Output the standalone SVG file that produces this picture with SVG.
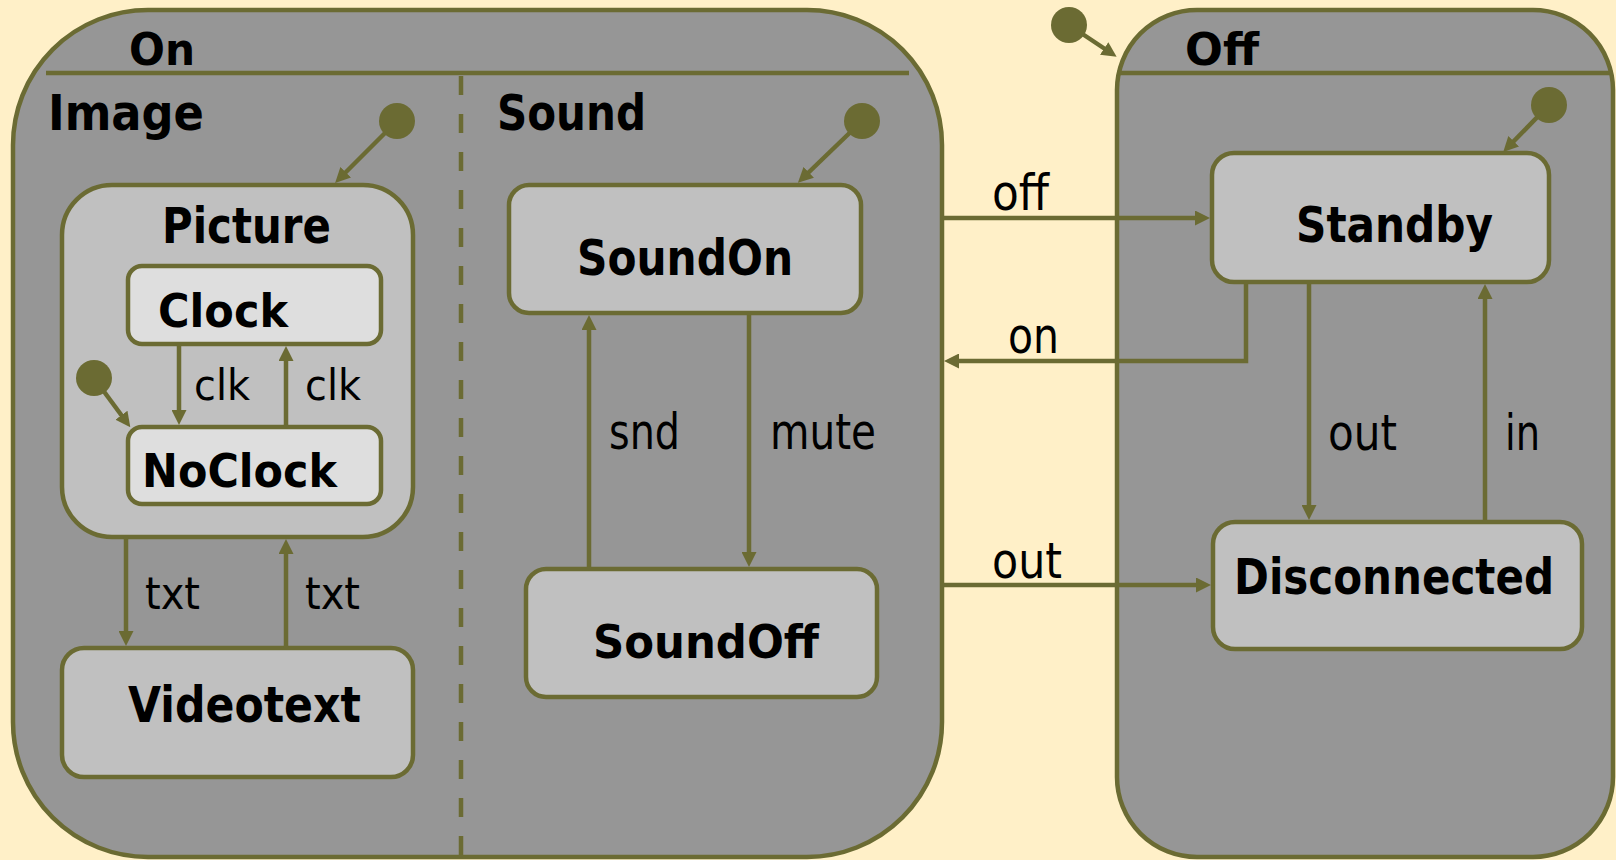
<svg xmlns="http://www.w3.org/2000/svg" width="1616" height="860" viewBox="0 0 1616 860">
  <style>
    .bg { fill: #FFF0C8; }
    .container { fill: #969696; stroke: #6B6B33; stroke-width: 4.5; }
    .box { fill: #C0C0C0; stroke: #6B6B33; stroke-width: 4.5; }
    .leaf { fill: #DEDEDE; stroke: #6B6B33; stroke-width: 4.5; }
    .rule { stroke: #6B6B33; stroke-width: 4.5; fill: none; }
    .dash { stroke: #6B6B33; stroke-width: 4.5; fill: none; stroke-dasharray: 19 19; }
    .edge { stroke: #6B6B33; stroke-width: 4.5; fill: none; marker-end: url(#arrow); }
    .init { fill: #6B6B33; }
    .title { font-family: "DejaVu Sans", Verdana, sans-serif; font-weight: bold; fill: #000; }
    .lbl { font-family: "DejaVu Sans", Verdana, sans-serif; font-weight: normal; fill: #000; }
  </style>
  <defs>
    <marker id="arrow" viewBox="0 0 15 15" refX="1" refY="7.5" markerWidth="15" markerHeight="15" markerUnits="userSpaceOnUse" orient="auto">
      <path d="M0,0 L15,7.5 L0,15 z" fill="#6B6B33"/>
    </marker>
  </defs>

  <rect class="bg" x="0" y="0" width="1616" height="860"/>

  <!-- composite state On with two orthogonal regions -->
  <g id="state-on">
    <rect class="container" x="13" y="10" width="929" height="847" rx="135" ry="135"/>
    <line class="rule" x1="46" y1="73" x2="909" y2="73"/>
    <line class="dash" x1="461" y1="76" x2="461" y2="857"/>
    <text class="title" x="129" y="65" font-size="45" textLength="66" lengthAdjust="spacingAndGlyphs">On</text>
    <text class="title" x="48" y="130" font-size="49" textLength="156" lengthAdjust="spacingAndGlyphs">Image</text>
    <text class="title" x="497" y="130" font-size="49" textLength="149" lengthAdjust="spacingAndGlyphs">Sound</text>
  </g>

  <!-- composite state Off -->
  <g id="state-off">
    <rect class="container" x="1117" y="10" width="496" height="847" rx="80" ry="80"/>
    <line class="rule" x1="1117" y1="73" x2="1613" y2="73"/>
    <text class="title" x="1185" y="65" font-size="45" textLength="74" lengthAdjust="spacingAndGlyphs">Off</text>
  </g>

  <g id="state-picture">
    <rect class="box" x="62" y="185" width="351" height="352" rx="50" ry="50"/>
    <text class="title" x="162" y="243" font-size="49" textLength="169" lengthAdjust="spacingAndGlyphs">Picture</text>
  </g>

  <g id="state-clock">
    <rect class="leaf" x="128" y="266" width="253" height="78" rx="14" ry="14"/>
    <text class="title" x="158" y="327" font-size="47" textLength="130" lengthAdjust="spacingAndGlyphs">Clock</text>
  </g>

  <g id="state-noclock">
    <rect class="leaf" x="128" y="427" width="253" height="77" rx="14" ry="14"/>
    <text class="title" x="142" y="487" font-size="46" textLength="195" lengthAdjust="spacingAndGlyphs">NoClock</text>
  </g>

  <g id="state-videotext">
    <rect class="box" x="62" y="648" width="351" height="129" rx="22" ry="22"/>
    <text class="title" x="128" y="722" font-size="49" textLength="233" lengthAdjust="spacingAndGlyphs">Videotext</text>
  </g>

  <g id="state-soundon">
    <rect class="box" x="509" y="185" width="352" height="128" rx="20" ry="20"/>
    <text class="title" x="577" y="275" font-size="49" textLength="216" lengthAdjust="spacingAndGlyphs">SoundOn</text>
  </g>

  <g id="state-soundoff">
    <rect class="box" x="526" y="569" width="351" height="128" rx="20" ry="20"/>
    <text class="title" x="593" y="658" font-size="47" textLength="226" lengthAdjust="spacingAndGlyphs">SoundOff</text>
  </g>

  <g id="state-standby">
    <rect class="box" x="1212" y="153" width="337" height="129" rx="22" ry="22"/>
    <text class="title" x="1296" y="242" font-size="49" textLength="197" lengthAdjust="spacingAndGlyphs">Standby</text>
  </g>

  <g id="state-disconnected">
    <rect class="box" x="1213" y="522" width="369" height="127" rx="22" ry="22"/>
    <text class="title" x="1234" y="594" font-size="49" textLength="320" lengthAdjust="spacingAndGlyphs">Disconnected</text>
  </g>

  <!-- transitions -->
  <g id="transitions">
    <line class="edge" x1="397" y1="121" x2="345" y2="173"/>
    <line class="edge" x1="862" y1="121" x2="808" y2="173"/>
    <line class="edge" x1="94" y1="378" x2="122" y2="416"/>
    <line class="edge" x1="1069" y1="25" x2="1105" y2="49"/>
    <line class="edge" x1="1549" y1="105" x2="1513" y2="142"/>

    <line class="edge" x1="179" y1="344" x2="179" y2="411"/>
    <line class="edge" x1="286" y1="427" x2="286" y2="360"/>
    <line class="edge" x1="126" y1="537" x2="126" y2="632"/>
    <line class="edge" x1="286" y1="648" x2="286" y2="553"/>
    <line class="edge" x1="589" y1="569" x2="589" y2="329"/>
    <line class="edge" x1="749" y1="313" x2="749" y2="553"/>
    <line class="edge" x1="942" y1="218" x2="1196" y2="218"/>
    <path class="edge" d="M1246,282 V361 H958"/>
    <line class="edge" x1="942" y1="585" x2="1197" y2="585"/>
    <line class="edge" x1="1309" y1="282" x2="1309" y2="506"/>
    <line class="edge" x1="1485" y1="522" x2="1485" y2="298"/>

    <text class="lbl" x="194" y="400" font-size="43" textLength="56" lengthAdjust="spacingAndGlyphs">clk</text>
    <text class="lbl" x="305" y="400" font-size="43" textLength="56" lengthAdjust="spacingAndGlyphs">clk</text>
    <text class="lbl" x="145" y="609" font-size="45" textLength="55" lengthAdjust="spacingAndGlyphs">txt</text>
    <text class="lbl" x="305" y="609" font-size="45" textLength="55" lengthAdjust="spacingAndGlyphs">txt</text>
    <text class="lbl" x="609" y="449" font-size="49" textLength="71" lengthAdjust="spacingAndGlyphs">snd</text>
    <text class="lbl" x="770" y="449" font-size="49" textLength="106" lengthAdjust="spacingAndGlyphs">mute</text>
    <text class="lbl" x="992" y="210" font-size="49" textLength="57" lengthAdjust="spacingAndGlyphs">off</text>
    <text class="lbl" x="1008" y="353" font-size="49" textLength="51" lengthAdjust="spacingAndGlyphs">on</text>
    <text class="lbl" x="992" y="578" font-size="49" textLength="70" lengthAdjust="spacingAndGlyphs">out</text>
    <text class="lbl" x="1328" y="450" font-size="49" textLength="69" lengthAdjust="spacingAndGlyphs">out</text>
    <text class="lbl" x="1505" y="450" font-size="49" textLength="35" lengthAdjust="spacingAndGlyphs">in</text>
  </g>

  <!-- initial pseudo-states -->
  <g id="init-image"><circle class="init" cx="397" cy="121" r="18"/></g>
  <g id="init-sound"><circle class="init" cx="862" cy="121" r="18"/></g>
  <g id="init-picture"><circle class="init" cx="94" cy="378" r="18"/></g>
  <g id="init-top"><circle class="init" cx="1069" cy="25" r="18"/></g>
  <g id="init-off"><circle class="init" cx="1549" cy="105" r="18"/></g>
</svg>
